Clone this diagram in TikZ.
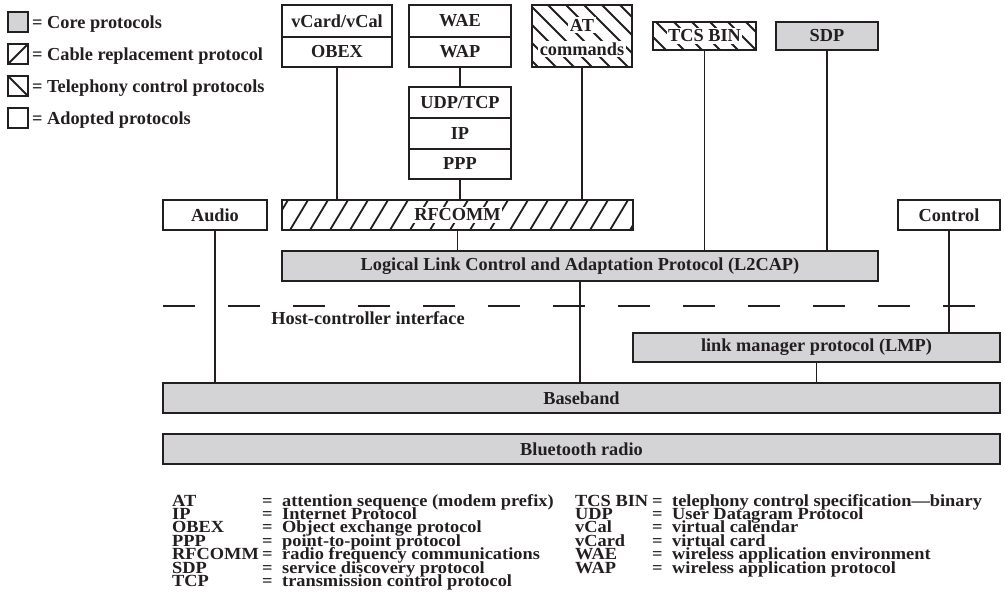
\documentclass[tikz,border=0pt]{standalone}
\usepackage{fontspec}
\setmainfont{Liberation Serif}
\usepackage{graphicx}
\definecolor{coregray}{RGB}{212,212,214}
\definecolor{ink}{RGB}{35,31,32}
\newcommand\labfont{\bfseries\fontsize{18.3}{20}\selectfont}
\newcommand\legfont{\bfseries\fontsize{17}{13.4}\selectfont}
\newcommand\lx[1]{\scalebox{1.08}[1]{#1}}
\begin{document}
\begin{tikzpicture}[x=1pt,y=-1pt,
  box/.style={draw=ink, line width=1.2pt, inner sep=0pt, font=\labfont, text=ink},
  corebox/.style={box, fill=coregray},
  conn/.style={draw=ink, line width=1.1pt},
  hatchline/.style={draw=ink, line width=1.8pt},
  wlab/.style={fill=white, inner sep=1.5pt, font=\labfont, text=ink},
  txt/.style={inner sep=0pt, font=\labfont, text=ink, anchor=base west},
  leg/.style={inner sep=0pt, font=\legfont, text=ink, anchor=base west}]
\useasboundingbox (0,0) rectangle (1005,603);

% ---------- top-left legend ----------
\node[corebox, minimum width=20, minimum height=20] (sq1) at (18,22) {};
\node[box, minimum width=20, minimum height=20] (sq2) at (18,54) {};
\node[box, minimum width=20, minimum height=20] (sq3) at (18,86) {};
\node[box, minimum width=20, minimum height=20] (sq4) at (18,118) {};
\draw[hatchline] (sq2.south west) -- (sq2.north east);
\draw[hatchline] (sq3.north west) -- (sq3.south east);
\node[txt] (lg1) at (32,28) {= Core protocols};
\node[txt] (lg2) at (32,60) {= Cable replacement protocol};
\node[txt] (lg3) at (32,92) {= Telephony control protocols};
\node[txt] (lg4) at (32,124) {= Adopted protocols};

% ---------- upper protocol boxes ----------
\node[box, minimum width=110, minimum height=32] (vcard) at (337,21) {vCard/vCal};
\node[box, minimum width=110, minimum height=30] (obex) at (337,52) {OBEX};
\node[box, minimum width=102, minimum height=32] (wae) at (460,21) {WAE};
\node[box, minimum width=102, minimum height=30] (wap) at (460,52) {WAP};

% AT commands (telephony, hatched)
\node[box, minimum width=100, minimum height=62] (at) at (582,36) {};
\begin{scope}
  \clip (at.south west) rectangle (at.north east);
  \foreach \x in {440,458,...,650} \draw[hatchline] (\x,5) -- ++(62,62);
\end{scope}
\draw[box] (at.south west) rectangle (at.north east);
\node[wlab] (atl1) at (582,25) {AT};
\node[wlab] (atl2) at (582,49) {commands};

% TCS BIN (telephony, hatched)
\node[box, minimum width=103, minimum height=28] (tcs) at (704.5,36) {};
\begin{scope}
  \clip (tcs.south west) rectangle (tcs.north east);
  \foreach \x in {620,638,...,770} \draw[hatchline] (\x,22) -- ++(28,28);
\end{scope}
\draw[box] (tcs.south west) rectangle (tcs.north east);
\node[wlab] (tcsl) at (704.5,36) {TCS BIN};

\node[corebox, minimum width=102, minimum height=28] (sdp) at (827,36) {SDP};

\node[box, minimum width=102, minimum height=31] (udp) at (460,102.5) {UDP/TCP};
\node[box, minimum width=102, minimum height=31] (ip) at (460,133.5) {IP};
\node[box, minimum width=102, minimum height=30] (ppp) at (460,164) {PPP};

% ---------- middle row ----------
\node[box, minimum width=104, minimum height=30] (audio) at (215,215) {Audio};
\node[box, minimum width=351, minimum height=30] (rfcomm) at (457.5,215) {};
\begin{scope}
  \clip (rfcomm.south west) rectangle (rfcomm.north east);
  \foreach \x in {250,270,...,650} \draw[hatchline] (\x,230) -- ++(18,-30);
\end{scope}
\draw[box] (rfcomm.south west) rectangle (rfcomm.north east);
\node[wlab] (rfl) at (457.5,215) {RFCOMM};
\node[box, minimum width=102, minimum height=30] (control) at (949,215) {Control};

\node[corebox, minimum width=596, minimum height=30] (l2cap) at (580,266) {Logical Link Control and Adaptation Protocol (L2CAP)};

% host-controller interface
\coordinate (hciL) at (163,306);
\coordinate (hciR) at (1005,306);
\draw[ink, line width=1.1pt, dash pattern=on 32pt off 33pt] (hciL) -- (hciR);
\node[txt, anchor=center] (hci) at (368,318) {Host-controller interface};

\node[corebox, minimum width=367, minimum height=29] (lmp) at (816.5,347.5) {link manager protocol (LMP)};
\node[corebox, minimum width=837, minimum height=30] (baseband) at (581.5,398) {Baseband};
\node[corebox, minimum width=837, minimum height=30] (radio) at (581.5,449) {Bluetooth radio};

% ---------- connectors ----------
\draw[conn] (obex.south) -- (obex.south |- rfcomm.north);
\draw[conn] (wap.south) -- (udp.north);
\draw[conn] (ppp.south) -- (ppp.south |- rfcomm.north);
\draw[conn] (rfcomm.south) -- (rfcomm.south |- l2cap.north);
\draw[conn] (at.south) -- (at.south |- rfcomm.north);
\draw[conn] (tcs.south) -- (tcs.south |- l2cap.north);
\draw[conn] (sdp.south) -- (sdp.south |- l2cap.north);
\draw[conn] (audio.south) -- (audio.south |- baseband.north);
\draw[conn] (control.south) -- (control.south |- lmp.north);
\draw[conn] (l2cap.south) -- (l2cap.south |- baseband.north);
\draw[conn] (lmp.south) -- (lmp.south |- baseband.north);

% ---------- bottom legend ----------
\foreach \ab/\df [count=\i] in {AT/attention sequence (modem prefix),
  IP/Internet Protocol, OBEX/Object exchange protocol,
  PPP/point-to-point protocol, RFCOMM/radio frequency communications,
  SDP/service discovery protocol, TCP/transmission control protocol}{
  \node[leg] (la\i) at (172,{506+13.4*(\i-1)}) {\lx{\ab}};
  \node[leg] (le\i) at (262,{506+13.4*(\i-1)}) {\lx{=}};
  \node[leg] (ld\i) at (282,{506+13.4*(\i-1)}) {\lx{\df}};
}
\foreach \ab/\df [count=\i] in {TCS BIN/telephony control specification—binary,
  UDP/User Datagram Protocol, vCal/virtual calendar, vCard/virtual card,
  WAE/wireless application environment, WAP/wireless application protocol}{
  \node[leg] (ra\i) at (575,{506+13.4*(\i-1)}) {\lx{\ab}};
  \node[leg] (re\i) at (652,{506+13.4*(\i-1)}) {\lx{=}};
  \node[leg] (rd\i) at (672,{506+13.4*(\i-1)}) {\lx{\df}};
}
\end{tikzpicture}
\end{document}
